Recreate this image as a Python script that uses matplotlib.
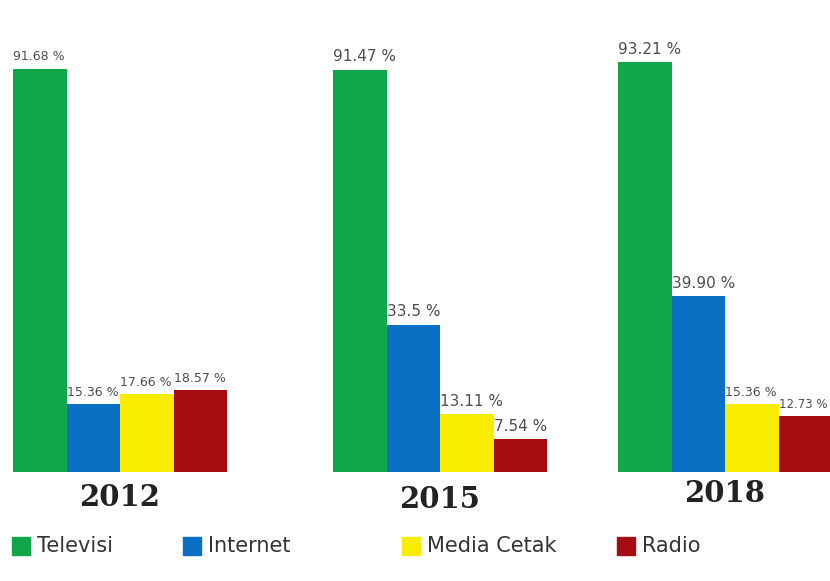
import matplotlib.pyplot as plt
from matplotlib.patches import Rectangle

# data
years = ["2012", "2015", "2018"]
media = ["Televisi", "Internet", "Media Cetak", "Radio"]
values = {
    "Televisi": [91.68, 91.47, 93.21],
    "Internet": [15.36, 33.5, 39.90],
    "Media Cetak": [17.66, 13.11, 15.36],
    "Radio": [18.57, 7.54, 12.73],
}
labels = {
    "Televisi": ["91.68 %", "91.47 %", "93.21 %"],
    "Internet": ["15.36 %", "33.5 %", "39.90 %"],
    "Media Cetak": ["17.66 %", "13.11 %", "15.36 %"],
    "Radio": ["18.57 %", "7.54 %", "12.73 %"],
}
colors = ["#10a64a", "#0b6fc4", "#f8ec00", "#a50d12"]

# label font sizes (per medium, per year)
lab_size = {
    "Televisi": [9, 11, 11],
    "Internet": [9, 11, 11],
    "Media Cetak": [9, 11, 9],
    "Radio": [9, 11, 8.5],
}

W, H = 830, 581
fig = plt.figure(figsize=(W / 100, H / 100), dpi=100)
# axes in pixel-like x units, baseline at y=472 px
ax = fig.add_axes([0, (H - 472) / H, 1, 460 / H])
ax.set_xlim(0, W)
ax.set_ylim(0, 460 / 4.4)
ax.axis("off")

group_left = [13, 333, 618]
bw = 53.5

for i, m in enumerate(media):
    xs = [g + i * bw for g in group_left]
    ax.bar(xs, values[m], width=bw, align="edge", color=colors[i])
    for j, x in enumerate(xs):
        ax.text(x, values[m][j] + 1.2, labels[m][j], ha="left", va="bottom",
                fontsize=lab_size[m][j], color="#4d4d4d")

# year labels
year_y = [498, 500, 493]
for j, yr in enumerate(years):
    cx = group_left[j] + 2 * bw
    fig.text(cx / W, 1 - year_y[j] / H, yr, ha="center", va="center",
             fontsize=21, fontweight="bold", color="#222222",
             family="DejaVu Serif")

# legend
leg_x = [12, 183, 402, 617]
for i, m in enumerate(media):
    fig.patches.append(Rectangle((leg_x[i] / W, 1 - 555 / H), 18 / W, 18 / H,
                                 transform=fig.transFigure, color=colors[i]))
    fig.text((leg_x[i] + 25) / W, 1 - 546 / H, m, ha="left", va="center",
             fontsize=15, color="#333333")

fig.savefig("out.png", dpi=100)
